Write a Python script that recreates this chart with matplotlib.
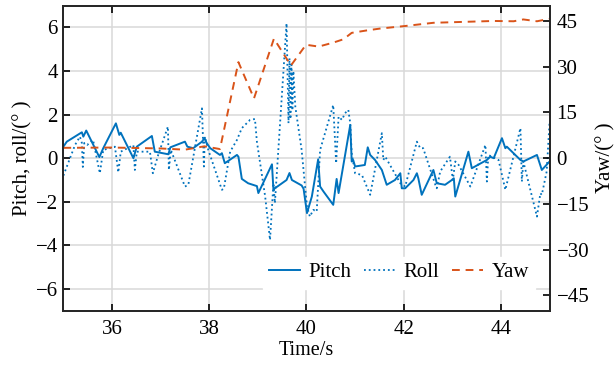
import matplotlib
matplotlib.use("Agg")
import matplotlib.pyplot as plt

# Attitude angles versus time
pitch_t = [35.00, 35.07, 35.38, 35.41, 35.47, 35.74, 35.82, 36.08, 36.15, 36.18,
           36.44, 36.51, 36.82, 36.88, 37.16, 37.20, 37.50, 37.55, 37.67, 37.85,
           37.90, 37.95, 38.02, 38.22, 38.26, 38.32, 38.57, 38.60, 38.67, 38.80,
           38.98, 39.01, 39.29, 39.32, 39.35, 39.59, 39.65, 39.70, 39.90, 39.94,
           40.01, 40.11, 40.24, 40.28, 40.35, 40.55, 40.62, 40.66, 40.90, 40.93,
           40.96, 41.00, 41.20, 41.26, 41.31, 41.41, 41.55, 41.65, 41.82, 41.93,
           41.96, 42.03, 42.20, 42.27, 42.30, 42.37, 42.61, 42.68, 42.85, 42.99,
           43.03, 43.06, 43.33, 43.40, 43.71, 43.78, 43.85, 44.02, 44.09, 44.12,
           44.40, 44.46, 44.74, 44.84, 45.00]
pitch = [0.53, 0.76, 1.19, 0.99, 1.27, 0.05, 0.46, 1.60, 1.07, 1.17,
         0.00, 0.53, 1.02, 0.30, 0.18, 0.50, 0.76, 0.53, 0.46, 0.76,
         0.92, 0.69, 0.46, 0.15, 0.23, -0.23, 0.15, 0.07, -0.95, -1.15,
         -1.28, -1.60, -0.28, -1.45, -1.38, -1.00, -0.68, -1.00, -1.25, -1.40,
         -2.52, -1.76, -0.05, -1.30, -1.53, -2.14, -0.95, -1.60, 1.53, -0.15,
         -0.08, -0.38, -0.31, 0.50, 0.15, -0.08, -0.54, -1.22, -1.00, -0.69,
         -1.38, -1.38, -1.00, -0.69, -0.92, -1.68, -0.54, -1.15, -1.22, -1.00,
         -0.92, -1.76, 0.30, -0.46, -0.08, 0.07, 0.00, 0.92, 0.46, 0.53,
         -0.08, -0.15, 0.15, -0.54, -0.15]

roll_t = [35.00, 35.24, 35.34, 35.38, 35.40, 35.43, 35.49, 35.61, 35.75, 35.82,
          36.06, 36.13, 36.18, 36.44, 36.47, 36.51, 36.78, 36.84, 36.95, 37.15,
          37.17, 37.21, 37.50, 37.57, 37.85, 37.89, 37.91, 37.98, 38.26, 38.30,
          38.43, 38.57, 38.67, 38.84, 38.94, 38.98, 39.15, 39.25, 39.32, 39.35,
          39.59, 39.63, 39.65, 39.67, 39.69, 39.71, 39.73, 39.77, 39.90, 40.01,
          40.07, 40.14, 40.21, 40.28, 40.55, 40.61, 40.66, 40.73, 40.79, 40.86,
          40.90, 40.93, 41.00, 41.14, 41.31, 41.55, 41.58, 41.62, 41.93, 42.03,
          42.27, 42.34, 42.40, 42.65, 42.68, 42.75, 42.95, 43.01, 43.06, 43.13,
          43.37, 43.68, 43.71, 43.74, 43.95, 44.09, 44.40, 44.43, 44.46, 44.74,
          44.81, 44.84, 44.94, 45.00]
roll = [-0.80, 0.61, 0.99, 0.70, -0.40, 0.70, 0.61, 0.84, -0.69, 0.38,
        0.53, -0.65, 0.30, 0.60, -0.54, 0.30, 0.30, -0.69, 0.15, 1.45,
        -0.54, 0.38, -1.30, -1.22, 2.29, -0.38, 0.99, 0.38, -1.45, -1.40,
        0.30, 0.84, 1.38, 1.76, 1.80, 0.76, -1.76, -3.75, -1.15, -2.06,
        6.19, 1.61, 4.59, 1.80, 4.30, 2.20, 4.00, 2.37, 0.38, -2.22,
        -2.68, -2.37, -2.45, 0.38, 2.44, -0.23, 1.91, 1.76, 2.06, 2.22,
        1.61, 0.23, -0.69, -0.77, -1.68, 1.15, -0.08, 0.07, -1.15, -1.30,
        0.76, 0.46, 0.46, -1.22, -1.38, -0.61, 0.07, -1.00, -0.15, -0.31,
        -1.30, 0.61, -1.07, 0.15, -0.08, -1.45, 1.38, -1.07, -0.15, -2.68,
        -1.61, -1.68, -0.61, 1.68]

yaw_t = [35.00, 36.00, 37.00, 37.50, 37.90, 38.22, 38.60, 38.92, 39.33, 39.68,
         39.99, 40.25, 40.55, 40.76, 40.93, 41.24, 41.51, 42.06, 42.61, 43.23,
         43.85, 44.26, 44.46, 44.74, 45.00]
yaw = [3.4, 3.5, 3.2, 2.8, 3.9, 3.0, 31.5, 19.6, 39.2, 30.4,
       37.2, 36.6, 37.9, 39.0, 41.1, 41.9, 42.5, 43.4, 44.4, 44.7,
       45.0, 44.9, 45.5, 44.9, 45.7]

left_ticks = [-6, -4, -2, 0, 2, 4, 6]
right_ticks = [-45, -30, -15, 0, 15, 30, 45]
x_ticks = [36, 38, 40, 42, 44]

blue = "#0072BD"
orange = "#D95319"

plt.rcParams["font.family"] = ["Liberation Serif", "DejaVu Serif"]

fig = plt.figure(figsize=(6.16, 3.71), dpi=100)
ax = fig.add_axes([0.1029, 0.1625, 0.7893, 0.8221])
ax2 = ax.twinx()

l1, = ax.plot(pitch_t, pitch, color=blue, lw=1.4, ls="-", label="Pitch")
l2, = ax.plot(roll_t, roll, color=blue, lw=1.3, ls=":", label="Roll")
l3, = ax2.plot(yaw_t, yaw, color=orange, lw=1.4, dashes=(4, 3), label="Yaw")

ax.set_xlim(35, 45)
ax.set_ylim(-7, 7)
ax2.set_ylim(-50, 50)
ax.set_xticks(x_ticks)
ax.set_yticks(left_ticks)
ax2.set_yticks(right_ticks)

ax.set_axisbelow(True)
ax.grid(True, color="#d9d9d9", lw=1.1)

for a in (ax, ax2):
    for s in a.spines.values():
        s.set_linewidth(1.3)
        s.set_color("#262626")

ax.tick_params(axis="x", direction="in", top=True, length=5, width=1.2,
               labelsize=15, pad=7)
ax.tick_params(axis="y", direction="in", right=False, length=5, width=1.2,
               labelsize=15, pad=4)
ax2.tick_params(axis="y", direction="in", length=5, width=1.2,
                labelsize=15, pad=5)

ax.set_xlabel("Time/s", fontsize=14.5, labelpad=1)
ax.set_ylabel("Pitch, roll/(° )", fontsize=15, labelpad=2)
ax2.set_ylabel("Yaw/(° )", fontsize=15, labelpad=5)

leg = ax2.legend(handles=[l1, l2, l3], loc="center",
                 bbox_to_anchor=(0.69, 0.125), ncol=3, fontsize=15,
                 handlelength=1.5, handletextpad=0.4, columnspacing=0.6,
                 frameon=True, fancybox=False, framealpha=1,
                 facecolor="white", edgecolor="white", borderpad=0.3)

fig.savefig("out.png", dpi=100)
